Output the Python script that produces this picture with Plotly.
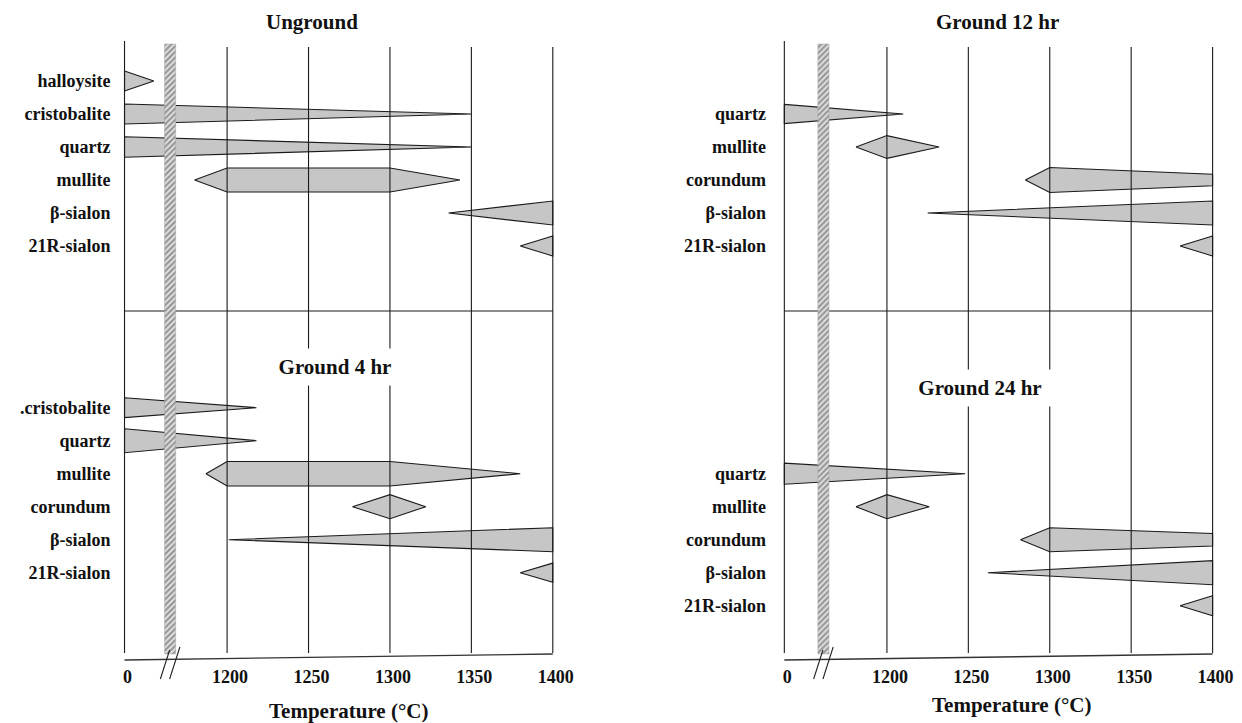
import plotly.graph_objects as go

# ------------------------------------------------------------------ data
TICK_TEMPS = [0, 1200, 1250, 1300, 1350, 1400]
TICK_LABELS = ["0", "1200", "1250", "1300", "1350", "1400"]
GRID_TEMPS = [1200, 1250, 1300, 1350, 1400]

# Unground (top-left)
ung_phases = ["halloysite", "cristobalite", "quartz", "mullite", "β-sialon", "21R-sialon"]
ung_temps = [[0, 1155], [0, 1350], [0, 1350], [1180, 1200, 1300, 1343], [1336, 1400], [1380, 1400]]
ung_amount = [[0.83, 0], [0.83, 0], [0.85, 0], [0, 1.0, 1.0, 0], [0, 1.0], [0, 0.83]]

# Ground 4 hr (bottom-left)
g4_phases = [".cristobalite", "quartz", "mullite", "corundum", "β-sialon", "21R-sialon"]
g4_temps = [[0, 1218], [0, 1218], [1187, 1200, 1300, 1380], [1277, 1300, 1322], [1201, 1400], [1380, 1400]]
g4_amount = [[0.83, 0], [1.0, 0], [0, 1.02, 1.02, 0], [0, 1.0, 0], [0, 1.0], [0, 0.8]]

# Ground 12 hr (top-right)
g12_phases = ["quartz", "mullite", "corundum", "β-sialon", "21R-sialon"]
g12_temps = [[0, 1210], [1181, 1200, 1232], [1285, 1300, 1400], [1225, 1400], [1380, 1400]]
g12_amount = [[0.8, 0], [0, 0.95, 0], [0, 1.04, 0.48], [0, 1.0], [0, 0.83]]

# Ground 24 hr (bottom-right)
g24_phases = ["quartz", "mullite", "corundum", "β-sialon", "21R-sialon"]
g24_temps = [[0, 1248], [1181, 1200, 1226], [1282, 1300, 1400], [1262, 1400], [1380, 1400]]
g24_amount = [[0.88, 0], [0, 1.0, 0], [0, 1.0, 0.52], [0, 1.0], [0, 0.83]]

# ------------------------------------------------------------------ layout constants
PAGE_OFF = 8             # browser body margin
W, H = 1242 - PAGE_OFF, 723 - PAGE_OFF
ZERO_POS = 1137          # axis position where 0 degC is drawn (broken axis)
BREAK_POS = [1165, 1161] # hatched break band per panel
BREAK_HALF = 3.4
ROW_PX, ROW0_PX = 33.0, 81.0 - PAGE_OFF
BOTTOM_OFFSET = 9.9      # first row of lower section (row units)
SEP_ROW = 6.97
H_UNIT = 12.0 / ROW_PX   # half-thickness of a full band (row units)
DOMAIN_BOTTOM_PX = 662


def row_of_px(px):
    return (px - PAGE_OFF - ROW0_PX) / ROW_PX


def paper_y(px):
    return (H - (px - PAGE_OFF)) / H


def paper_x(px):
    return (px - PAGE_OFF) / W


GRID_TOP = row_of_px(47)
ZERO_TOP = row_of_px(41)
GRID_BOT = row_of_px(653)
HATCH_TOP = row_of_px(44)
HATCH_BOT = row_of_px(654)

FILL = "#c6c6c6"
EDGE = "#1a1a1a"
FONT = "Liberation Serif"


def pos(t):
    return ZERO_POS if t == 0 else t


fig = go.Figure()

panels = [
    dict(xa="x", ya="y", brk=BREAK_POS[0],
         sections=[(ung_phases, ung_temps, ung_amount, 0.0),
                   (g4_phases, g4_temps, g4_amount, BOTTOM_OFFSET)]),
    dict(xa="x2", ya="y2", brk=BREAK_POS[1],
         sections=[(g12_phases, g12_temps, g12_amount, 1.0),
                   (g24_phases, g24_temps, g24_amount, BOTTOM_OFFSET + 2)]),
]

for p in panels:
    tickvals, ticktext = [], []
    # phase bands
    for phases, temps, amounts, start in p["sections"]:
        for i, (name, ts, am) in enumerate(zip(phases, temps, amounts)):
            c = start + i
            tickvals.append(c)
            ticktext.append(name)
            xs = [pos(t) for t in ts]
            xp = xs + xs[::-1] + [xs[0]]
            yp = [c - a * H_UNIT for a in am] + [c + a * H_UNIT for a in am[::-1]] + [c - am[0] * H_UNIT]
            fig.add_trace(go.Scatter(
                x=xp, y=yp, mode="lines", fill="toself", fillcolor=FILL,
                line=dict(color=EDGE, width=1.1), xaxis=p["xa"], yaxis=p["ya"],
                hoverinfo="skip", showlegend=False))
    p["tickvals"], p["ticktext"] = tickvals, ticktext

    # frame: gridlines, zero line, section separator
    gx, gy = [], []
    for t in GRID_TEMPS:
        gx += [t, t, None]
        gy += [GRID_TOP, GRID_BOT, None]
    gx += [ZERO_POS, ZERO_POS, None, ZERO_POS, GRID_TEMPS[-1]]
    gy += [ZERO_TOP, GRID_BOT, None, SEP_ROW, SEP_ROW]
    fig.add_trace(go.Scatter(x=gx, y=gy, mode="lines", line=dict(color=EDGE, width=1.1),
                             xaxis=p["xa"], yaxis=p["ya"], hoverinfo="skip", showlegend=False))

    # hatched break band
    b = p["brk"]
    fig.add_trace(go.Scatter(
        x=[b - BREAK_HALF, b + BREAK_HALF, b + BREAK_HALF, b - BREAK_HALF, b - BREAK_HALF],
        y=[HATCH_TOP, HATCH_TOP, HATCH_BOT, HATCH_BOT, HATCH_TOP],
        mode="lines", fill="toself", fillcolor="#e0e0e0",
        fillpattern=dict(shape="/", fgcolor="#444444", bgcolor="#e0e0e0", size=4, solidity=0.5),
        line=dict(color="#a0a0a0", width=0.5), xaxis=p["xa"], yaxis=p["ya"],
        hoverinfo="skip", showlegend=False))

    # bottom axis line (slightly slanted) and break marks
    fig.add_shape(type="line", xref=p["xa"], yref="paper", x0=ZERO_POS, x1=GRID_TEMPS[-1],
                  y0=paper_y(660), y1=paper_y(654), line=dict(color="#333", width=1.3))
    fig.add_shape(type="line", xref=p["xa"], yref="paper", x0=b - 6, x1=b - 0.3,
                  y0=paper_y(679), y1=paper_y(650), line=dict(color="#222", width=1.1))
    fig.add_shape(type="line", xref=p["xa"], yref="paper", x0=b - 0.3, x1=b + 6,
                  y0=paper_y(679), y1=paper_y(647), line=dict(color="#222", width=1.1))

# axes
slope = 1.635  # px per degree


def xrange(px0, px1, px1300):
    return [1300 + (px0 - px1300) / slope, 1300 + (px1 - px1300) / slope]


left_px = (112, 571)
right_px = (770, 1234)
yrange = [row_of_px(DOMAIN_BOTTOM_PX), row_of_px(PAGE_OFF)]
ydom = [paper_y(DOMAIN_BOTTOM_PX), 1.0]

common_x = dict(tickvals=[pos(t) for t in TICK_TEMPS], ticktext=TICK_LABELS, showgrid=False,
                zeroline=False, showline=False, ticks="", ticklabelstandoff=2, ticklabelshift=3,
                tickfont=dict(family=FONT, size=18, color="#111", weight="bold"), fixedrange=True)
common_y = dict(range=yrange, domain=ydom, showgrid=False, zeroline=False, showline=False, ticks="",
                tickfont=dict(family=FONT, size=18, color="#111", weight="bold"), fixedrange=True)

fig.update_layout(
    width=W, height=H, margin=dict(l=0, r=0, t=0, b=0),
    paper_bgcolor="white", plot_bgcolor="white", showlegend=False,
    xaxis=dict(domain=[paper_x(left_px[0]), paper_x(left_px[1])], range=xrange(*left_px, 391.5),
               anchor="y", **common_x),
    xaxis2=dict(domain=[paper_x(right_px[0]), paper_x(right_px[1])], range=xrange(*right_px, 1054),
                anchor="y2", **common_x),
    yaxis=dict(anchor="x", tickvals=panels[0]["tickvals"], ticktext=panels[0]["ticktext"], **common_y),
    yaxis2=dict(anchor="x2", tickvals=panels[1]["tickvals"], ticktext=panels[1]["ticktext"], **common_y),
)

title_font = dict(family=FONT, size=21, color="#111", weight="bold")
titles = [
    ("Unground", 313.5, 22, None),
    ("Ground 12 hr", 1002, 22, None),
    ("Ground 4 hr", 336, 367, 132),
    ("Ground 24 hr", 984, 388, 150),
    ("Temperature (°C)", 350, 711, None),
    ("Temperature (°C)", 1016, 705, None),
]
for text, xp, yp, boxw in titles:
    kw = dict(bgcolor="white", borderpad=6, width=boxw) if boxw else {}
    fig.add_annotation(text=text, x=paper_x(xp), y=paper_y(yp), xref="paper", yref="paper",
                       showarrow=False, font=title_font, xanchor="center", yanchor="middle", **kw)

fig.write_html("out.html")
